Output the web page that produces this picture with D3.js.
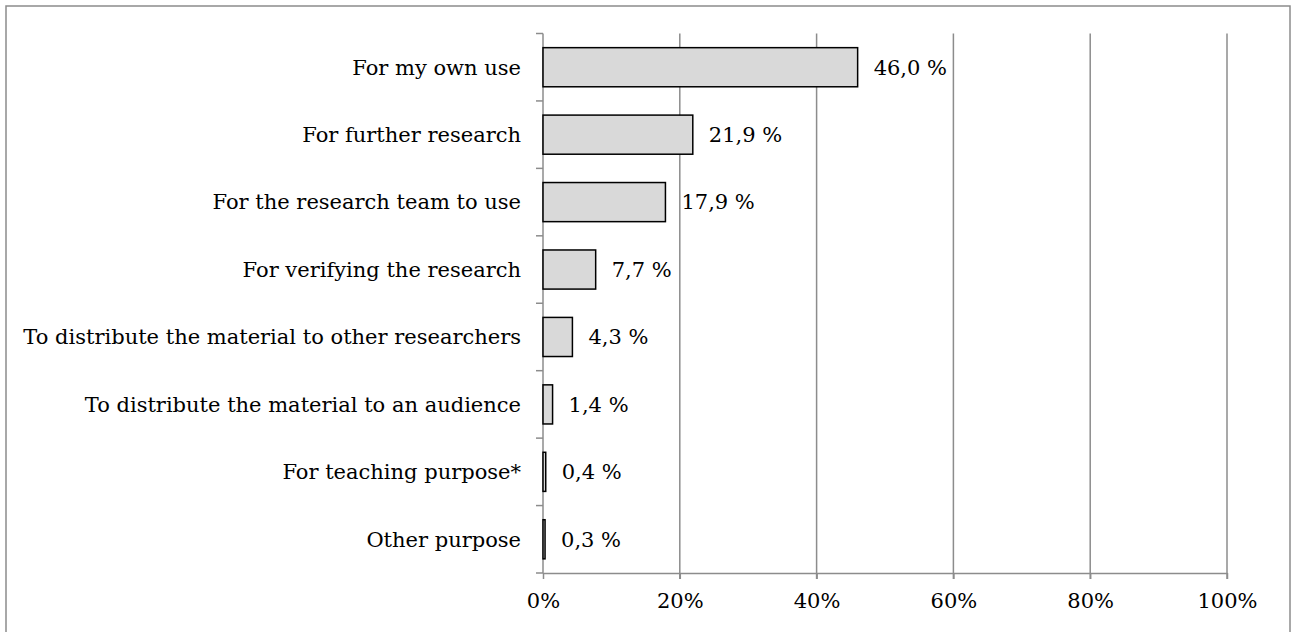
<!DOCTYPE html>
<html>
<head>
<meta charset="utf-8">
<script src="https://cdn.jsdelivr.net/npm/d3@7"></script>
<style>
  body { margin: 0; background: #fff; }
  text { font-family: "DejaVu Serif", Georgia, serif; fill: #000; }
</style>
</head>
<body>
<script>
var width = 1292,
    height = 632;

var categories = [
    "For my own use",
    "For further research",
    "For the research team to use",
    "For verifying the research",
    "To distribute the material to other researchers",
    "To distribute the material to an audience",
    "For teaching purpose*",
    "Other purpose"
];
var values = [46.0, 21.9, 17.9, 7.7, 4.3, 1.4, 0.4, 0.3];
var xTicks = [0, 20, 40, 60, 80, 100];

var plot = {left: 543, right: 1227, top: 33.5, bottom: 573};
var fontSize = "21px";

var svg = d3.select("body").append("svg")
    .attr("width", width)
    .attr("height", height);

// outer frame, bottom edge runs off the picture
svg.append("rect")
    .attr("x", 6).attr("y", 6)
    .attr("width", 1284).attr("height", 640)
    .attr("fill", "none")
    .attr("stroke", "#8c8c8c")
    .attr("stroke-width", 1.5);

var x = d3.scaleLinear().domain([0, 100]).range([plot.left, plot.right]);
var y = d3.scaleBand().domain(categories)
    .range([plot.top, plot.bottom])
    .paddingInner(0.42).paddingOuter(0.21);

// grid lines
svg.append("g").selectAll("line")
    .data(xTicks.slice(1))
    .enter().append("line")
    .attr("x1", function (d) { return x(d); })
    .attr("x2", function (d) { return x(d); })
    .attr("y1", plot.top)
    .attr("y2", plot.bottom + 6)
    .attr("stroke", "#8c8c8c")
    .attr("stroke-width", 1.5);

// x axis
var xAxis = svg.append("g")
    .attr("transform", "translate(0," + plot.bottom + ")")
    .call(d3.axisBottom(x).tickValues(xTicks).tickSize(6).tickSizeOuter(0)
        .tickFormat(function (d) { return d + "%"; }));
xAxis.select(".domain").attr("stroke", "#8c8c8c").attr("stroke-width", 1.5);
xAxis.selectAll(".tick line").attr("stroke", "#8c8c8c").attr("stroke-width", 1.5);
xAxis.selectAll(".tick text")
    .attr("y", 35).attr("dy", null)
    .attr("fill", "#000")
    .style("font-size", fontSize);

// y axis: line plus ticks between categories
svg.append("line")
    .attr("x1", plot.left).attr("x2", plot.left)
    .attr("y1", plot.top).attr("y2", plot.bottom)
    .attr("stroke", "#8c8c8c").attr("stroke-width", 1.5);

var step = y.step();
var bounds = d3.range(categories.length + 1).map(function (i) { return plot.top + i * step; });
svg.append("g").selectAll("line")
    .data(bounds)
    .enter().append("line")
    .attr("x1", plot.left - 7).attr("x2", plot.left)
    .attr("y1", function (d) { return d; })
    .attr("y2", function (d) { return d; })
    .attr("stroke", "#8c8c8c").attr("stroke-width", 1.5);

// category labels
svg.append("g").selectAll("text")
    .data(categories)
    .enter().append("text")
    .attr("x", plot.left - 22)
    .attr("y", function (d) { return y(d) + y.bandwidth() / 2; })
    .attr("dy", "0.35em")
    .attr("text-anchor", "end")
    .style("font-size", fontSize)
    .text(function (d) { return d; });

// bars
svg.append("g").selectAll("rect")
    .data(values)
    .enter().append("rect")
    .attr("x", x(0))
    .attr("y", function (d, i) { return y(categories[i]); })
    .attr("width", function (d) { return x(d) - x(0); })
    .attr("height", y.bandwidth())
    .attr("fill", "#d9d9d9")
    .attr("stroke", "#000")
    .attr("stroke-width", 1.5);

// value labels
svg.append("g").selectAll("text")
    .data(values)
    .enter().append("text")
    .attr("x", function (d) { return x(d) + 16; })
    .attr("y", function (d, i) { return y(categories[i]) + y.bandwidth() / 2; })
    .attr("dy", "0.35em")
    .style("font-size", fontSize)
    .text(function (d) { return d.toFixed(1).replace(".", ",") + " %"; });
</script>
</body>
</html>
